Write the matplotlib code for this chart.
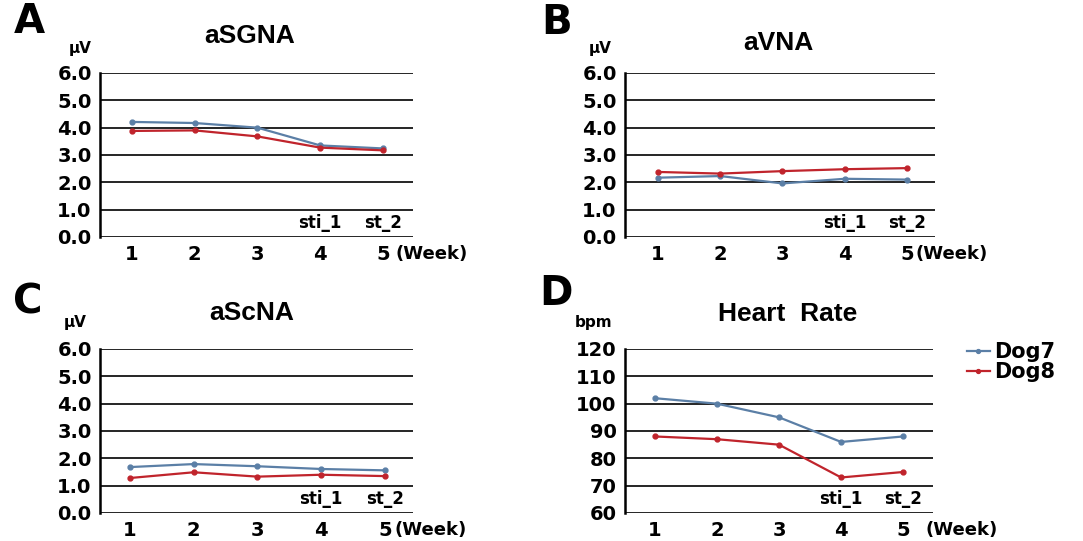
import numpy as np
import matplotlib
matplotlib.use("Agg")
import matplotlib.pyplot as plt
from matplotlib.transforms import blended_transform_factory

# data
weeks = [1, 2, 3, 4, 5]

sgna_dog7 = [4.21, 4.17, 4.00, 3.35, 3.24]
sgna_dog8 = [3.88, 3.90, 3.68, 3.27, 3.17]

vna_dog7 = [2.17, 2.23, 1.96, 2.13, 2.10]
vna_dog8 = [2.38, 2.32, 2.41, 2.48, 2.52]

scna_dog7 = [1.68, 1.79, 1.71, 1.61, 1.56]
scna_dog8 = [1.28, 1.49, 1.33, 1.40, 1.35]

hr_dog7 = [102, 100, 95, 86, 88]
hr_dog8 = [88, 87, 85, 73, 75]

uv_ticks = [0, 1, 2, 3, 4, 5, 6]
uv_ticklabels = ["0.0", "1.0", "2.0", "3.0", "4.0", "5.0", "6.0"]
hr_ticks = [60, 70, 80, 90, 100, 110, 120]
hr_ticklabels = ["60", "70", "80", "90", "100", "110", "120"]

BLUE = "#5b7fa6"
RED = "#c0242c"
W, H = 1083, 541

plt.rcParams["font.family"] = ["DejaVu Sans"]
plt.rcParams["font.weight"] = "bold"

fig = plt.figure(figsize=(W / 100, H / 100), dpi=100)


def fx(x):
    return x / W


def fy(y):
    return 1 - y / H


def panel(left, right, top, bottom, xlim, y7, y8, ticks, ticklabels, week_off):
    ax = fig.add_axes([fx(left), fy(bottom), fx(right - left), (bottom - top) / H])
    l7, = ax.plot(weeks, y7, color=BLUE, lw=1.6, marker="o", ms=3.5, zorder=3)
    l8, = ax.plot(weeks, y8, color=RED, lw=1.6, marker="o", ms=3.5, zorder=3)
    ax.set_xlim(*xlim)
    ax.set_ylim(ticks[0], ticks[-1])
    ax.set_yticks(ticks)
    ax.set_yticklabels(ticklabels)
    ax.set_xticks(weeks)
    ax.set_xticklabels([str(w) for w in weeks])
    for t in ticks:
        ax.axhline(t, color="black", lw=1.2, zorder=1)
    for s in ["top", "right", "bottom"]:
        ax.spines[s].set_visible(False)
    ax.spines["left"].set_linewidth(1.8)
    ax.tick_params(length=0, labelsize=14, pad=6)
    for lab in ax.get_xticklabels() + ax.get_yticklabels():
        lab.set_fontweight("bold")
    tr = blended_transform_factory(ax.transData, ax.transAxes)
    ax.text(4, 0.085, "sti_1", transform=tr, ha="center", va="center", fontsize=12, fontweight="bold")
    ax.text(5, 0.085, "st_2", transform=tr, ha="center", va="center", fontsize=12, fontweight="bold")
    ax.annotate("(Week)", xy=(5, 0), xycoords=tr, xytext=(week_off, -12),
                textcoords="offset points", ha="left", va="center",
                fontsize=13, fontweight="bold")
    return ax, l7, l8


panel(100, 413, 73, 237, (0.49, 5.48), sgna_dog7, sgna_dog8, uv_ticks, uv_ticklabels, 9)
panel(625, 935, 73, 237, (0.47, 5.45), vna_dog7, vna_dog8, uv_ticks, uv_ticklabels, 6)
panel(100, 413, 349, 513, (0.53, 5.44), scna_dog7, scna_dog8, uv_ticks, uv_ticklabels, 7)
ax, l7, l8 = panel(625, 933, 349, 513, (0.52, 5.48), hr_dog7, hr_dog8, hr_ticks, hr_ticklabels, 16)

# panel letters
for x, y, s in [(29, 22, "A"), (557, 23, "B"), (28, 303, "C"), (556, 294, "D")]:
    fig.text(fx(x), fy(y), s, ha="center", va="center", fontsize=29, fontweight="bold")

# units
for x, y, s in [(80, 48, "μV"), (600, 48, "μV"), (75, 322, "μV"), (594, 322, "bpm")]:
    fig.text(fx(x), fy(y), s, ha="center", va="center", fontsize=11, fontweight="bold")

# titles
for x, y, s in [(250, 36, "aSGNA"), (778, 43, "aVNA"), (252, 313, "aScNA"), (788, 314, "Heart  Rate")]:
    fig.text(fx(x), fy(y), s, ha="center", va="center", fontsize=19, fontweight="bold",
             family="Liberation Sans")

fig.legend([l7, l8], ["Dog7", "Dog8"], loc="center left", bbox_to_anchor=(fx(967), fy(362)),
           frameon=False, handlelength=1.1, handletextpad=0.2,
           labelspacing=0.0, borderpad=0, borderaxespad=0, markerscale=0.8,
           prop={"weight": "bold", "size": 15})

fig.savefig("out.png", dpi=100, facecolor="white")
